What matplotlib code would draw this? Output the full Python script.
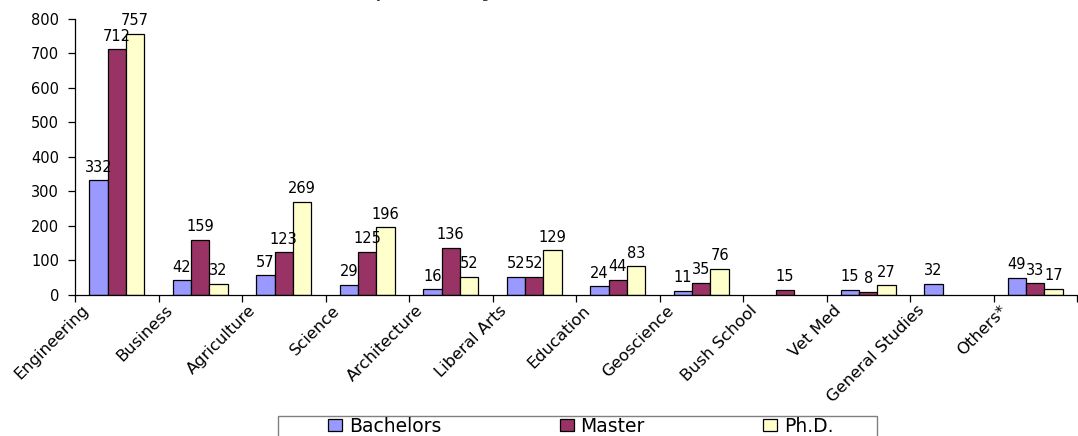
import numpy as np
import matplotlib
matplotlib.use("Agg")
import matplotlib.pyplot as plt
from matplotlib.patches import Rectangle
from matplotlib.transforms import ScaledTranslation

colleges = ["Engineering", "Business", "Agriculture", "Science", "Architecture",
            "Liberal Arts", "Education", "Geoscience", "Bush School", "Vet Med",
            "General Studies", "Others*"]
bachelors = [332, 42, 57, 29, 16, 52, 24, 11, None, 15, 32, 49]
master = [712, 159, 123, 125, 136, 52, 44, 35, 15, 8, None, 33]
phd = [757, 32, 269, 196, 52, 129, 83, 76, None, 27, None, 17]
series_names = ["Bachelors", "Master", "Ph.D."]
series_colors = ["#9999FF", "#993366", "#FFFFCC"]
yticks = [0, 100, 200, 300, 400, 500, 600, 700, 800]
title_text = "Enrollment by Academic College"

plt.rcParams['font.family'] = ['DejaVu Sans']

W, H = 1078, 436
fig = plt.figure(figsize=(W / 100, H / 100), dpi=100)
ax = fig.add_axes([75 / W, 1 - 294.7 / H, 1002 / W, (294.7 - 19) / H])

x = np.arange(len(colleges))
bw = 0.22
all_series = [bachelors, master, phd]
for i, (vals, name, col) in enumerate(zip(all_series, series_names, series_colors)):
    h = np.array([np.nan if v is None else v for v in vals], dtype=float)
    cont = ax.bar(x + (i - 1) * bw, np.nan_to_num(h), width=bw, color=col,
                  edgecolor="black", linewidth=0.9, label=name)
    labels = ["" if v is None else str(v) for v in vals]
    ax.bar_label(cont, labels=labels, padding=4, fontsize=10.5)
    for rect, v in zip(cont.patches, vals):
        if v is None:
            rect.set_visible(False)

ax.set_xlim(-0.5, len(colleges) - 0.5)
ax.set_ylim(0, 800)
ax.set_yticks(yticks)
ax.tick_params(axis="y", direction="out", length=5, width=0.9, pad=6.5,
               labelsize=10.5)

ax.set_xticks(np.arange(len(colleges) + 1) - 0.5)
ax.set_xticklabels([])
ax.tick_params(axis="x", which="major", direction="out", length=5, width=0.9)
ax.set_xticks(x, minor=True)
ax.set_xticklabels(colleges, minor=True, rotation=45, ha="right", va="center",
                   rotation_mode="anchor", fontsize=11.8)
ax.tick_params(axis="x", which="minor", length=0, pad=9.5)
offset = ScaledTranslation(-0.30, 0, fig.dpi_scale_trans)
for lab in ax.get_xticklabels(minor=True):
    lab.set_transform(lab.get_transform() + offset)

for s in ["top", "right"]:
    ax.spines[s].set_visible(False)
for s in ["left", "bottom"]:
    ax.spines[s].set_linewidth(0.9)
    ax.spines[s].set_color("black")

# clipped title (only descenders visible at the top edge)
fig.text(296 / W, 1 + 0.8 / H, title_text, fontsize=8, fontweight="bold",
         ha="left", va="baseline", color="#333333")

# legend
leg = fig.legend(loc="upper left", bbox_to_anchor=(328 / W, 1 - 417 / H),
                 ncol=3, frameon=False, fontsize=13.5, borderpad=0,
                 borderaxespad=0, handlelength=0.75, handleheight=0.6,
                 handletextpad=0.37, columnspacing=6.3)
fig.add_artist(Rectangle((278 / W, -0.05), 599 / W, 0.05 + 1 - 416 / H,
                         transform=fig.transFigure, fill=False,
                         edgecolor="#808080", linewidth=1.0, clip_on=False))

fig.savefig("out.png", dpi=100)
